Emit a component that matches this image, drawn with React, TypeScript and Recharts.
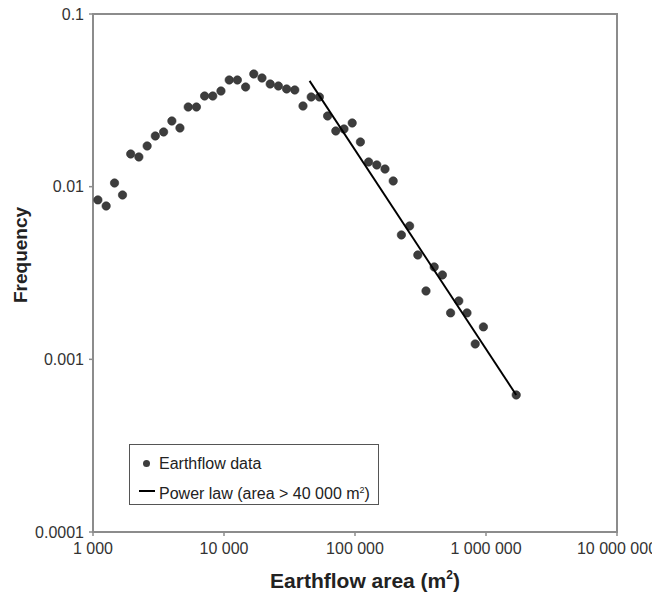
import React from 'react';
import { ScatterChart, Scatter, XAxis, YAxis, ReferenceArea } from 'recharts';

// Earthflow area bins (m²) and observed frequency
const areas = [
  1090, 1260, 1460, 1680, 1940, 2240, 2590, 2990, 3460, 4000,
  4610, 5330, 6160, 7110, 8210, 9480, 10960, 12650, 14620, 16880,
  19500, 22520, 26010, 30050, 34710, 40090, 46300, 53480, 61770, 71350,
  82410, 95190, 109950, 127000, 146690, 169430, 195700, 226050, 261100, 301580,
  348340, 402350, 464730, 536800, 620030, 716140, 827230, 955440, 1701000,
];
const frequencies = [
  0.00838, 0.00773, 0.0105, 0.00895, 0.01546, 0.01486, 0.01721, 0.01966, 0.02074, 0.02401,
  0.02187, 0.02893, 0.02893, 0.0335, 0.0335, 0.03581, 0.04148, 0.04148, 0.03778, 0.04494,
  0.0426, 0.03932, 0.03829, 0.0368, 0.03631, 0.02932, 0.03307, 0.03307, 0.02567, 0.02102,
  0.02158, 0.02338, 0.01815, 0.0139, 0.01336, 0.01265, 0.01079, 0.005253, 0.005922, 0.004022,
  0.002489, 0.003428, 0.003082, 0.001857, 0.002179, 0.001857, 0.001228, 0.001541, 0.000622,
];
// Power law fit endpoints (area > 40 000 m²)
const fitAreas = [45000, 1701000];
const fitFrequencies = [0.041, 0.000622];

const xTicks = [1000, 10000, 100000, 1000000, 10000000];
const xTickLabels = ['1 000', '10 000', '100 000', '1 000 000', '10 000 000'];
const yTicks = [0.0001, 0.001, 0.01, 0.1];
const yTickLabels = ['0.0001', '0.001', '0.01', '0.1'];

const seriesNames = ['Earthflow data', 'Power law (area > 40 000 m'];

const pointData = areas.map((a, i) => ({ x: a, y: frequencies[i] }));
const fitData = fitAreas.map((a, i) => ({ x: a, y: fitFrequencies[i] }));

const FONT = '"Liberation Sans", Arial, Helvetica, sans-serif';
const AXIS = '#8c8c8c';

const Dot = (props: any) => (
  <circle cx={props.cx} cy={props.cy} r={4.2} fill="#3d3d3d" stroke="#2f2f2f" strokeWidth={0.6} />
);
const NoShape = () => <g />;

export default function App() {
  return (
    <div style={{ position: 'absolute', left: 0, top: 0, width: 652, height: 596, background: '#fff' }}>
      <ScatterChart width={652} height={596} margin={{ top: 14, right: 35, bottom: 0, left: 0 }}>
        <XAxis
          type="number"
          dataKey="x"
          scale="log"
          domain={[1000, 10000000]}
          ticks={xTicks}
          allowDataOverflow
          height={64}
          tickSize={4}
          tickMargin={7}
          axisLine={{ stroke: AXIS, strokeWidth: 2 }}
          tickLine={{ stroke: AXIS, strokeWidth: 1.5 }}
          tick={{ fontSize: 16, fontFamily: FONT, fill: '#333' }}
          tickFormatter={(v: number) => xTickLabels[xTicks.indexOf(v)] ?? String(v)}
          interval={0}
          label={{
            content: () => (
              <text x={365} y={588} textAnchor="middle" fontSize={21} fontWeight="bold" fontFamily={FONT} fill="#222">
                Earthflow area (m<tspan dy={-9} fontSize={12}>2</tspan><tspan dy={9}>)</tspan>
              </text>
            ),
          }}
        />
        <YAxis
          type="number"
          dataKey="y"
          scale="log"
          domain={[0.0001, 0.1]}
          ticks={yTicks}
          allowDataOverflow
          width={93}
          tickSize={4}
          tickMargin={5}
          axisLine={{ stroke: AXIS, strokeWidth: 2 }}
          tickLine={{ stroke: AXIS, strokeWidth: 1.5 }}
          tick={{ fontSize: 16, fontFamily: FONT, fill: '#333' }}
          tickFormatter={(v: number) => yTickLabels[yTicks.indexOf(v)] ?? String(v)}
          interval={0}
          label={{
            content: () => (
              <text x={27} y={255} transform="rotate(-90 27 255)" textAnchor="middle" fontSize={19} fontWeight="bold" fontFamily={FONT} fill="#222">
                Frequency
              </text>
            ),
          }}
        />
        <ReferenceArea x1={1000} x2={10000000} y1={0.0001} y2={0.1} fill="none" stroke={AXIS} strokeWidth={2} ifOverflow="visible" />
        <Scatter name={seriesNames[0]} data={pointData} shape={Dot} isAnimationActive={false} />
        <Scatter
          name={seriesNames[1]}
          data={fitData}
          shape={NoShape}
          line={{ stroke: '#000', strokeWidth: 1.9 }}
          isAnimationActive={false}
        />
      </ScatterChart>
      <div
        style={{
          position: 'absolute',
          left: 129,
          top: 444,
          width: 248,
          height: 59,
          border: '1px solid #555',
          background: '#fff',
          fontFamily: FONT,
          fontSize: 16,
          color: '#222',
        }}
      >
        <div style={{ position: 'absolute', left: 13, top: 15, width: 7, height: 7, borderRadius: 4, background: '#3d3d3d' }} />
        <div style={{ position: 'absolute', left: 29, top: 9, lineHeight: '19px', whiteSpace: 'nowrap' }}>{seriesNames[0]}</div>
        <div style={{ position: 'absolute', left: 9, top: 45, width: 16, height: 2, background: '#000' }} />
        <div style={{ position: 'absolute', left: 29, top: 36, lineHeight: '19px', whiteSpace: 'nowrap' }}>
          {seriesNames[1]}
          <sup style={{ fontSize: 9, verticalAlign: 6 }}>2</sup>)
        </div>
      </div>
    </div>
  );
}
